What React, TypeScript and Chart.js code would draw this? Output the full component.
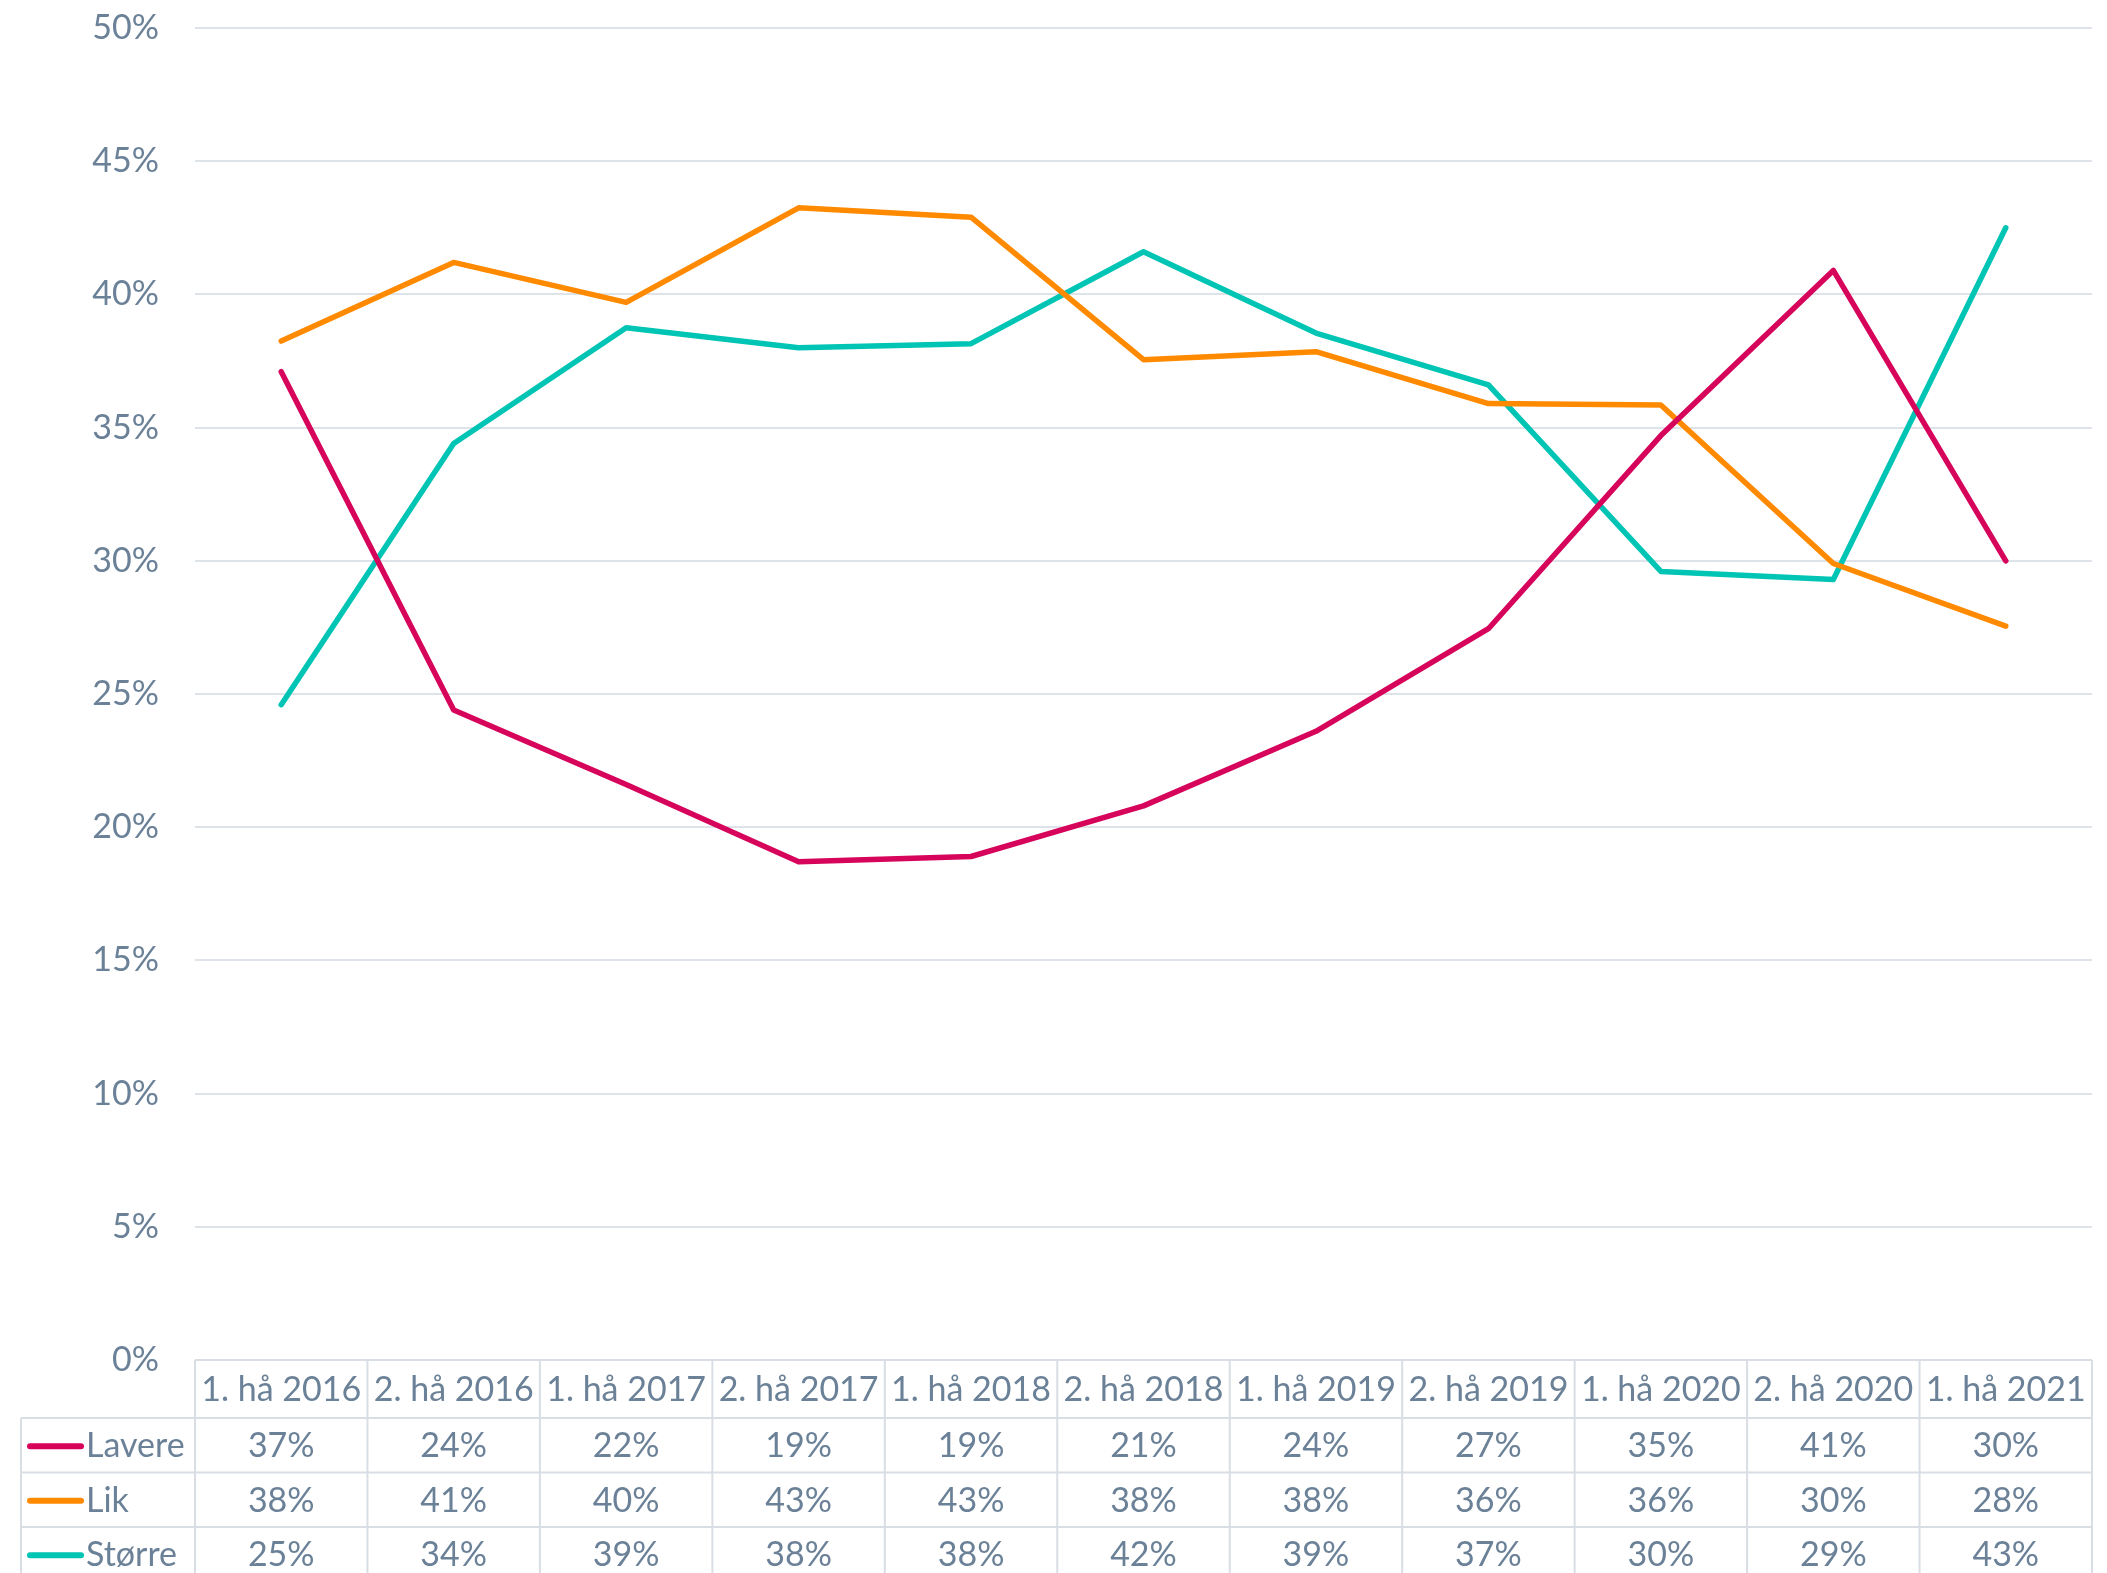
import React, { useEffect, useRef } from "react";
import { Chart, registerables } from "chart.js";

Chart.register(...registerables);

const categories = [
  "1. hå 2016", "2. hå 2016", "1. hå 2017", "2. hå 2017", "1. hå 2018", "2. hå 2018",
  "1. hå 2019", "2. hå 2019", "1. hå 2020", "2. hå 2020", "1. hå 2021",
];
const lavere = [37.1, 24.4, 21.6, 18.7, 18.9, 20.8, 23.6, 27.45, 34.7, 40.9, 30.0];
const lik = [38.25, 41.2, 39.7, 43.25, 42.9, 37.55, 37.85, 35.9, 35.85, 29.9, 27.55];
const storre = [24.6, 34.4, 38.75, 38.0, 38.15, 41.6, 38.55, 36.6, 29.6, 29.3, 42.5];
const seriesNames = ["Lavere", "Lik", "Større"];
const seriesColors = ["#D6045A", "#FF8A00", "#00C4B4"];
const yTicks = [0, 5, 10, 15, 20, 25, 30, 35, 40, 45, 50];

const TEXT = "#6B8197";
const GRID = "#DEE3E9";
const FONT = "Lato";

const tablePlugin = {
  id: "dataTable",
  afterDraw(chart: any) {
    const ctx = chart.ctx;
    const x = chart.scales.x;
    const area = chart.chartArea;
    const n = categories.length;
    const colW = (area.right - area.left) / n;
    const top = area.bottom;
    const headerH = 58;
    const rowH = 54.5;
    const legendLeft = 21;
    const H = chart.height;
    ctx.save();
    ctx.strokeStyle = "#D9DEE4";
    ctx.lineWidth = 2;
    ctx.beginPath();
    ctx.moveTo(area.left, top);
    ctx.lineTo(area.right, top);
    for (let r = 0; r <= 3; r++) {
      const y = top + headerH + r * rowH;
      ctx.moveTo(legendLeft, y);
      ctx.lineTo(area.right, y);
    }
    for (let i = 0; i <= n; i++) {
      const xx = area.left + i * colW;
      ctx.moveTo(xx, top);
      ctx.lineTo(xx, H + 5);
    }
    ctx.moveTo(legendLeft, top + headerH);
    ctx.lineTo(legendLeft, H + 5);
    ctx.stroke();

    ctx.fillStyle = TEXT;
    ctx.font = `34px ${FONT}`;
    ctx.textBaseline = "middle";
    ctx.textAlign = "center";
    categories.forEach((c, i) => {
      ctx.fillText(c, x.getPixelForValue(i), top + headerH / 2 + 1);
    });
    const all = [lavere, lik, storre];
    all.forEach((arr, r) => {
      const cy = top + headerH + r * rowH + rowH / 2 + 1;
      ctx.textAlign = "center";
      ctx.fillStyle = TEXT;
      arr.forEach((v, i) => {
        ctx.fillText(Math.round(v) + "%", x.getPixelForValue(i), cy);
      });
      ctx.strokeStyle = seriesColors[r];
      ctx.lineWidth = 6;
      ctx.lineCap = "round";
      ctx.beginPath();
      ctx.moveTo(30, cy);
      ctx.lineTo(81, cy);
      ctx.stroke();
      ctx.textAlign = "left";
      ctx.fillText(seriesNames[r], 86, cy);
    });
    ctx.restore();
  },
};

export default function App() {
  const ref = useRef<HTMLCanvasElement>(null);
  useEffect(() => {
    document.body.style.margin = "0";
    document.body.style.overflow = "hidden";
    const chart = new Chart(ref.current!, {
      type: "line",
      data: {
        labels: categories,
        datasets: [lavere, lik, storre].map((d, i) => ({
          label: seriesNames[i],
          data: d,
          borderColor: seriesColors[i],
          backgroundColor: seriesColors[i],
          borderWidth: 5.5,
          pointRadius: 0,
          borderCapStyle: "round" as const,
          borderJoinStyle: "round" as const,
          tension: 0,
        })),
      },
      options: {
        animation: false,
        responsive: false,
        devicePixelRatio: 1,
        layout: { padding: { left: 0, right: 15, top: 28, bottom: 213 } },
        plugins: { legend: { display: false }, tooltip: { enabled: false } },
        scales: {
          x: { display: false, offset: true },
          y: {
            min: 0,
            max: 50,
            afterBuildTicks(scale: any) {
              scale.ticks = yTicks.map((v) => ({ value: v }));
            },
            afterFit(scale: any) {
              scale.width = 195;
              scale.paddingTop = 0;
              scale.paddingBottom = 0;
            },
            border: { display: false },
            grid: { color: GRID, lineWidth: 2, drawTicks: false },
            ticks: {
              color: TEXT,
              font: { family: FONT, size: 34 },
              padding: 36,
              callback: (v: any) => v + "%",
            },
          },
        },
      },
      plugins: [tablePlugin],
    });
    return () => chart.destroy();
  }, []);
  return (
    <div style={{ width: 2107, height: 1573 }}>
      <canvas ref={ref} width={2107} height={1573} style={{ width: 2107, height: 1573, display: "block" }} />
    </div>
  );
}
